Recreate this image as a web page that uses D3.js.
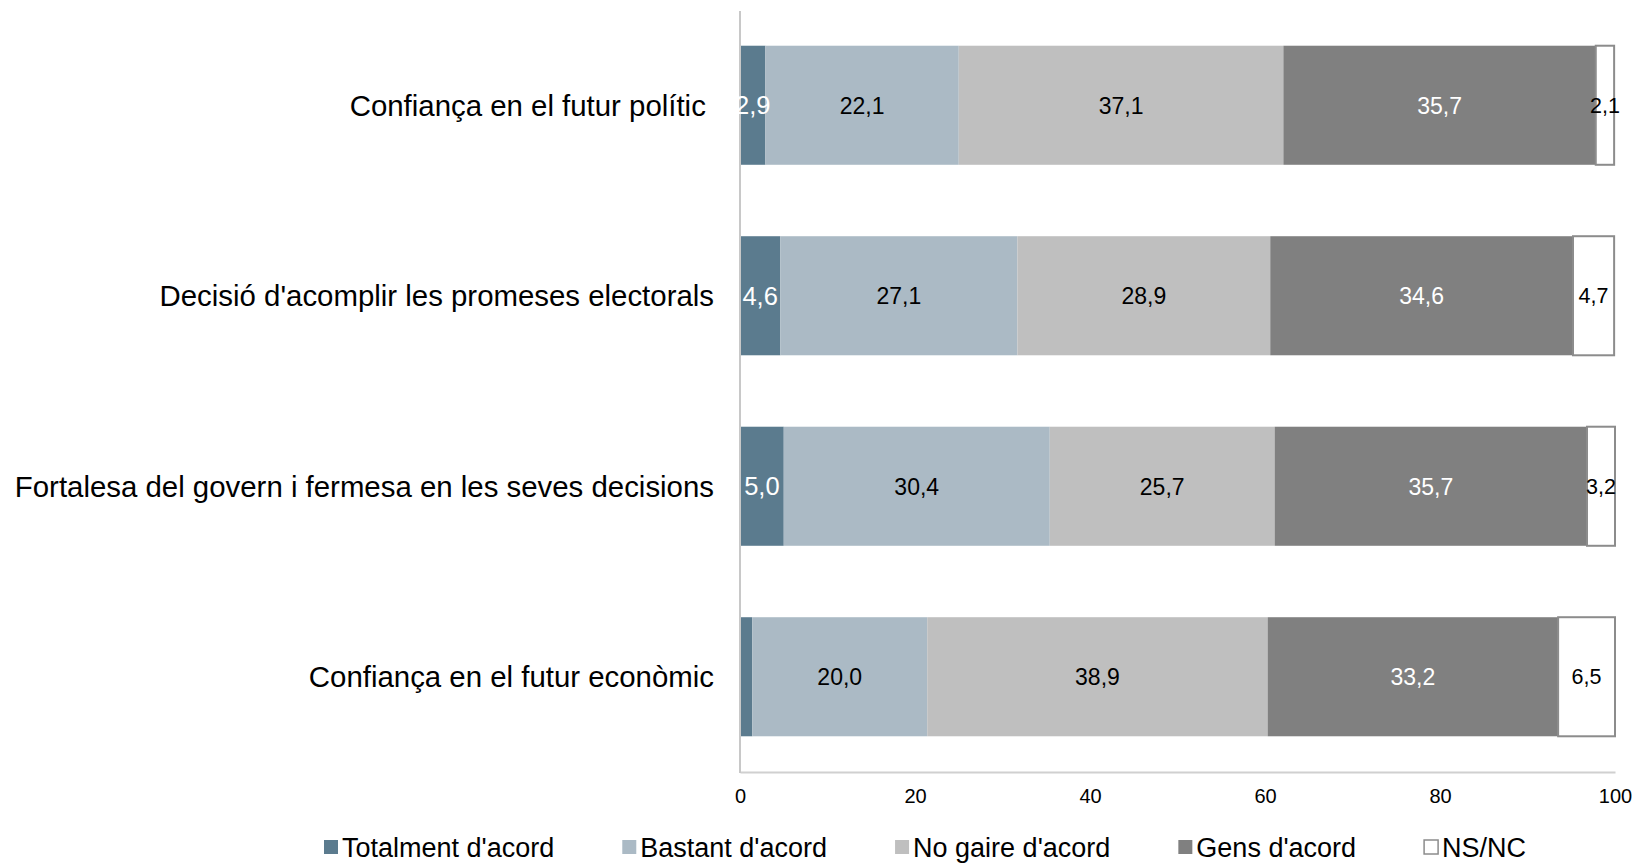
<!DOCTYPE html>
<html>
<head>
<meta charset="utf-8">
<script src="https://cdn.jsdelivr.net/npm/d3@7"></script>
<style>
  html, body { margin: 0; padding: 0; background: #fff; }
  svg { display: block; font-family: "Liberation Sans", Arial, sans-serif; }
</style>
</head>
<body>
<svg id="chart" width="1640" height="863"></svg>
<script>
// ---- data ----
const categories = [
  "Confiança en el futur polític ",
  "Decisió d'acomplir les promeses electorals",
  "Fortalesa del govern i fermesa en les seves decisions",
  "Confiança en el futur econòmic"
];
const seriesNames = ["Totalment d'acord", "Bastant d'acord", "No gaire d'acord", "Gens d'acord", "NS/NC"];
const totalmentAcord = [2.9, 4.6, 5.0, 1.4];
const bastantAcord   = [22.1, 27.1, 30.4, 20.0];
const noGaireAcord   = [37.1, 28.9, 25.7, 38.9];
const gensAcord      = [35.7, 34.6, 35.7, 33.2];
const nsnc           = [2.1, 4.7, 3.2, 6.5];
const xTicks = [0, 20, 40, 60, 80, 100];

// ---- styles ----
const seriesValues = [totalmentAcord, bastantAcord, noGaireAcord, gensAcord, nsnc];
const fills = ["#5b7b8e", "#abbac5", "#bfbfbf", "#808080", "#ffffff"];
const labelColors = ["#ffffff", "#000000", "#000000", "#ffffff", "#000000"];
const labelSizes = [25.5, 23, 23, 23, 21.5];

const svg = d3.select("#chart");
const x = d3.scaleLinear().domain([0, 100]).range([740, 1615]);
const y = d3.scaleBand().domain(categories).range([10, 772])
  .paddingInner(0.375).paddingOuter(0.1875);

// stacked data
const rows = categories.map((c, i) => {
  const o = { cat: c };
  seriesNames.forEach((s, j) => o[s] = seriesValues[j][i]);
  return o;
});
const stack = d3.stack().keys(seriesNames)(rows);

const layers = svg.append("g").selectAll("g").data(stack).join("g")
  .attr("fill", (d, i) => fills[i]);

layers.selectAll("rect").data(d => d.map(p => ({ p, key: d.key, idx: d.index })))
  .join("rect")
  .attr("x", d => x(d.p[0]))
  .attr("y", d => y(d.p.data.cat))
  .attr("width", d => x(d.p[1]) - x(d.p[0]))
  .attr("height", y.bandwidth())
  .attr("stroke", d => d.idx === 4 ? "#8c8c8c" : "none")
  .attr("stroke-width", d => d.idx === 4 ? 2 : 0);

// axes
const axisG = svg.append("g").attr("transform", "translate(0,772)")
  .call(d3.axisBottom(x).tickValues(xTicks).tickSize(0).tickPadding(17).tickFormat(d3.format("d")));
axisG.select(".domain").attr("stroke", "#d0d0d0").attr("stroke-width", 2);
axisG.selectAll("text").attr("font-size", 20).attr("fill", "#000")
  .attr("font-family", "Liberation Sans, Arial, sans-serif");

svg.append("line").attr("x1", x(0)).attr("x2", x(0)).attr("y1", 11).attr("y2", 773)
  .attr("stroke", "#c8c8c8").attr("stroke-width", 2);

// value labels
const fmt = v => v.toFixed(1).replace(".", ",");
stack.forEach((layer, i) => {
  svg.append("g").selectAll("text").data(layer.filter(p => p[1] - p[0] >= 2)).join("text")
    .attr("x", p => (x(p[0]) + x(p[1])) / 2)
    .attr("y", p => y(p.data.cat) + y.bandwidth() / 2)
    .attr("dy", "0.36em")
    .attr("text-anchor", "middle")
    .attr("font-size", labelSizes[i])
    .attr("fill", labelColors[i])
    .text(p => fmt(p[1] - p[0]));
});

// category labels
svg.append("g").selectAll("text").data(categories).join("text")
  .attr("x", 714)
  .attr("y", d => y(d) + y.bandwidth() / 2)
  .attr("dy", "0.36em")
  .attr("text-anchor", "end")
  .attr("font-size", 29.4)
  .style("white-space", "pre")
  .attr("fill", "#000")
  .text(d => d);

// legend
const legend = svg.append("g").attr("transform", "translate(324,857)");
let lx = 0;
seriesNames.forEach((s, i) => {
  const g = legend.append("g").attr("transform", `translate(${lx},0)`);
  g.append("rect").attr("x", 0).attr("y", -17).attr("width", 14).attr("height", 14)
    .attr("fill", fills[i]).attr("stroke", i === 4 ? "#8c8c8c" : "none").attr("stroke-width", 1.5);
  const t = g.append("text").attr("x", 18).attr("y", 0).attr("font-size", 27).attr("fill", "#000").text(s);
  lx += 18 + t.node().getComputedTextLength() + 68;
});
</script>
</body>
</html>
